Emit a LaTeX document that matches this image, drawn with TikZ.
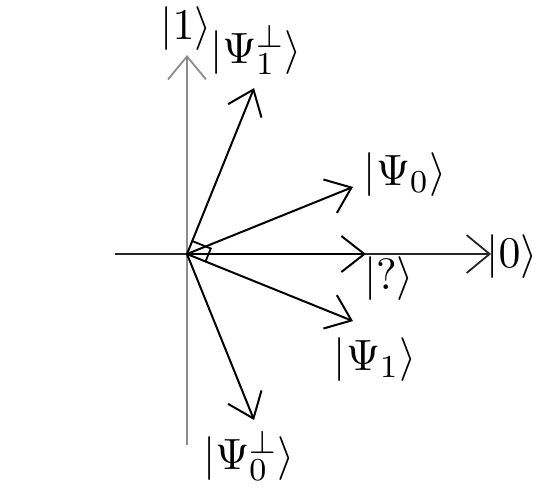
\documentclass[tikz,border=0pt]{standalone}
\usepackage{amsmath,amssymb}
\usetikzlibrary{arrows.meta,positioning,calc}
\tikzset{
  ketlabel/.style={
    inner sep=0pt,
    font=\fontsize{11}{13}\selectfont
  },
  vecarrow/.style={-{Straight Barb[length=5.75pt,width=9pt]},line width=0.5pt},
  axisarrow/.style={-{Straight Barb[length=5.75pt,width=9.5pt]},line width=0.45pt}
}

\begin{document}
\begin{tikzpicture}[x=0.25pt,y=0.25pt]
      \useasboundingbox (-187,-243) rectangle (358,254);
      % axes
      \coordinate (o) at (0,0);
      \coordinate (xleft) at (-72,0);
      \coordinate (xright) at (304,0);
      \coordinate (ydown) at (0,-191);
      \coordinate (yup) at (0,199);
      \draw[axisarrow,black!85] (xleft) -- (xright);
      \draw[axisarrow,black!45] (ydown) -- (yup);
      \node[ketlabel] (ket0) at (325,-3) {\(|0\rangle\)};
      \node[ketlabel] (ket1) at (-1,225) {\(|1\rangle\)};
      % state vectors
      \coordinate (psi0) at (22:179);
      \coordinate (psi1) at (-22:179);
      \coordinate (psi1perp) at (68:179);
      \coordinate (psi0perp) at (-68:179);
      \coordinate (unknown) at (0:179);
      \draw[vecarrow] (o) -- (psi0);
      \draw[vecarrow] (o) -- (psi1);
      \draw[vecarrow] (o) -- (psi1perp);
      \draw[vecarrow] (o) -- (psi0perp);
      \draw[vecarrow] (o) -- (unknown);
      \node[ketlabel] (lpsi0) at (218,79) {\(|\Psi_0\rangle\)};
      \node[ketlabel] (lpsi1) at (188,-106) {\(|\Psi_1\rangle\)};
      \node[ketlabel] (lpsi1perp) at (69,204) {\(|\Psi_1^\perp\rangle\)};
      \node[ketlabel] (lpsi0perp) at (62,-202) {\(|\Psi_0^\perp\rangle\)};
      \node[ketlabel] (lunknown) at (202,-25) {\(|?\rangle\)};
      % right angle
      \draw[line width=0.45pt] ($(o)+(68:14)$) -- ($(o)+(68:14)+(-22:20)$) -- ($(o)+(-22:20)$);
    \end{tikzpicture}
\end{document}
